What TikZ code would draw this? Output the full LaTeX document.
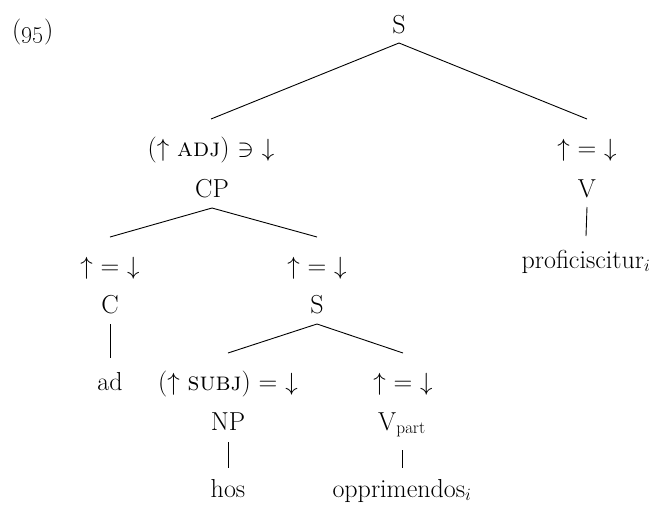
\documentclass[tikz,border=0pt]{standalone}
\begin{document}
\begin{tikzpicture}[x=1pt,y=-1pt,
  every node/.style={font=\fontsize{26}{31}\selectfont, inner sep=0pt, anchor=base},
  branch/.style={line width=0.9pt}]
\path[use as bounding box] (0,0) rectangle (662,504);
% labels
\node[anchor=base west] (ex) at (12,38) {(\oldstylenums{95})};
\node (S) at (399,33) {S};
\node (adjL) at (211,156) {($\uparrow$ \textsc{adj}) $\ni$ $\downarrow$};
\node (vL) at (587,156) {$\uparrow$ = $\downarrow$};
\node (CP) at (212,197) {CP};
\node (V) at (587,197) {V};
\node (cL) at (110,274) {$\uparrow$ = $\downarrow$};
\node (sL) at (317,274) {$\uparrow$ = $\downarrow$};
\node (prof) at (586,268) {proficiscitur$_i$};
\node (C) at (110,313) {C};
\node (S2) at (317,313) {S};
\node (ad) at (110,390) {ad};
\node (npL) at (228,390) {($\uparrow$ \textsc{subj}) = $\downarrow$};
\node (vpL) at (403,390) {$\uparrow$ = $\downarrow$};
\node (NP) at (228,430) {NP};
\node (Vp) at (402,430) {V$_{\mathrm{part}}$};
\node (hos) at (228,497) {hos};
\node (opp) at (402,497) {opprimendos$_i$};
% branches
\draw[branch] ([yshift=-10pt]S.base) -- ([yshift=37pt]adjL.base);
\draw[branch] ([yshift=-10pt]S.base) -- ([yshift=37pt]vL.base);
\draw[branch] ([yshift=-11pt]CP.base) -- ([yshift=37pt]cL.base);
\draw[branch] ([yshift=-11pt]CP.base) -- ([yshift=37pt]sL.base);
\draw[branch] ([yshift=-10pt]V.base) -- ([yshift=32pt]prof.base);
\draw[branch] ([yshift=-11pt]C.base) -- ([yshift=32pt]ad.base);
\draw[branch] ([yshift=-11pt]S2.base) -- ([yshift=37pt]npL.base);
\draw[branch] ([yshift=-11pt]S2.base) -- ([yshift=37pt]vpL.base);
\draw[branch] ([yshift=-12pt]NP.base) -- ([yshift=29pt]hos.base);
\draw[branch] ([yshift=-20pt]Vp.base) -- ([yshift=29pt]opp.base);
\end{tikzpicture}
\end{document}
